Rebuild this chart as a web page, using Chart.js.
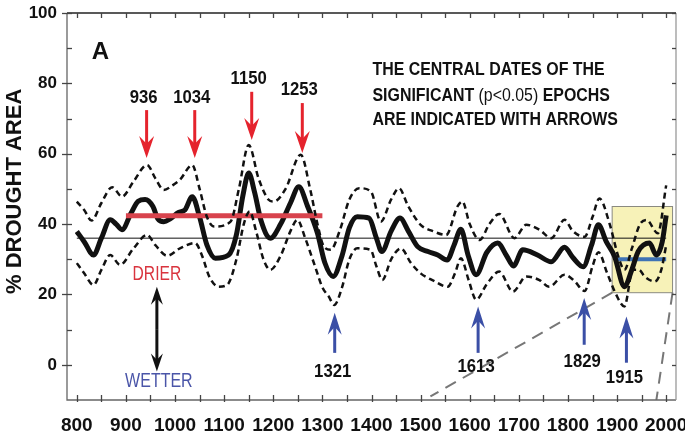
<!DOCTYPE html>
<html>
<head>
<meta charset="utf-8">
<script src="https://cdn.jsdelivr.net/npm/chart.js@4.4.1/dist/chart.umd.min.js"></script>
<style>
  html, body { margin: 0; padding: 0; background: #fff; }
  #chart { display: block; }
</style>
</head>
<body>
<canvas id="chart" width="685" height="435"></canvas>
<script>
// % drought area, panel A: mean reconstruction with its confidence band
const X_TICKS = [800, 900, 1000, 1100, 1200, 1300, 1400, 1500, 1600, 1700, 1800, 1900, 2000]
const Y_TICKS = [0, 20, 40, 60, 80, 100]

const YEARS_MEAN = [800, 815, 834, 850, 868, 880, 892, 910, 925, 939, 955, 965, 977, 990, 1007, 1020, 1035,
  1050, 1065, 1082, 1109, 1125, 1138, 1150, 1162, 1175, 1194, 1215, 1235, 1252, 1270, 1290, 1305, 1322,
  1340, 1355, 1371, 1395, 1410, 1421, 1440, 1458, 1475, 1494, 1515, 1535, 1554, 1568, 1582, 1597, 1613,
  1635, 1657, 1675, 1689, 1708, 1738, 1766, 1793, 1810, 1831, 1848, 1862, 1878, 1895, 1915, 1930, 1943,
  1966, 1980, 1992, 2000]
const MEAN = [37.9, 35, 31.2, 36, 41.2, 40, 38.4, 43, 46.5, 47, 45, 41.5, 40.7, 41.5, 43.3, 44, 47.8,
  42, 34, 30.3, 31.2, 37, 48, 54.5, 49, 41, 36, 40, 46, 50.6, 45, 37.4, 29, 25.1,
  31, 39, 42.1, 41.7, 36, 32.2, 38, 41.7, 38, 33.6, 32.2, 31.2, 29.8, 34, 38.5, 31, 25.6,
  32, 34.6, 31, 28.1, 32.7, 31.2, 29.3, 33.4, 30.5, 27.9, 34, 39.8, 35, 30.8, 22.2, 27, 32.2,
  34.6, 31.2, 35, 42.5]

const YEARS_UPPER = [800, 815, 830, 850, 872, 892, 915, 943, 960, 977, 995, 1010, 1035, 1050, 1065, 1080,
  1113, 1130, 1150, 1170, 1190, 1201, 1225, 1256, 1275, 1290, 1303, 1317, 1335, 1355, 1375, 1399, 1419,
  1440, 1456, 1475, 1500, 1525, 1552, 1575, 1585, 1600, 1620, 1640, 1660, 1691, 1715, 1742, 1766, 1793,
  1810, 1834, 1850, 1864, 1885, 1902, 1915, 1930, 1946, 1960, 1983, 2000]
const UPPER = [46.4, 44, 41, 46, 50.5, 47.8, 52, 56.8, 53, 49.7, 51, 52.6, 56.8, 50, 42, 39.3,
  40.7, 50, 62.5, 53, 47, 46.4, 50, 59.7, 50, 40, 33.6, 32.7, 38, 47, 50.2, 49.2, 40.7,
  47, 50.2, 45, 39.8, 38, 36.9, 45, 46.4, 40, 35.5, 40, 42.9, 36, 39.8, 38.4, 36, 41.2,
  38, 36.4, 42, 47.3, 40, 31, 27, 33, 39.8, 41.2, 37.4, 51]

const YEARS_LOWER = [800, 815, 834, 850, 868, 888, 915, 943, 960, 984, 1011, 1041, 1055, 1070, 1089, 1106,
  1125, 1140, 1152, 1165, 1180, 1194, 1215, 1235, 1249, 1265, 1285, 1300, 1313, 1324, 1340, 1355, 1371,
  1398, 1410, 1422, 1440, 1460, 1480, 1500, 1525, 1555, 1570, 1582, 1598, 1613, 1635, 1660, 1688, 1715,
  1742, 1762, 1793, 1812, 1834, 1850, 1862, 1880, 1898, 1915, 1932, 1945, 1956, 1977, 1990, 2000]
const LOWER = [28.9, 26, 22.7, 27, 31.2, 28.4, 33, 36.9, 34, 31, 33.2, 34.6, 31, 25, 22.2, 22.7,
  30, 40, 43.6, 38, 30, 27, 31, 38, 41.2, 36, 28, 22, 19.4, 17, 22, 30, 33.1,
  32.7, 28, 24.1, 30, 33.1, 29, 26, 24, 22.2, 26, 30.3, 24, 18.5, 23, 26.5, 20.8, 25.1,
  24.1, 22.2, 25.6, 24, 21, 28, 32, 26, 20, 16.6, 27, 27, 25.1, 23.7, 27, 34]

const LONG_TERM_MEAN = 36
const DRY_PERIOD = [900, 1300]
const DRY_PERIOD_MEAN = 42.4
const MODERN_PERIOD = [1895, 2000]
const MODERN_PERIOD_MEAN = 30

// significant epochs (central dates)
const DRY_EPOCHS = [936, 1034, 1150, 1253]
const WET_EPOCHS = [1321, 1613, 1829, 1915]

const SANS = '"Liberation Sans", Arial, sans-serif'
const RED = '#e5232d'
const BLUE = '#3b4fa6'

// where the arrows sit, in data units: [label centre, arrow tail, arrow tip]
const DRY_ARROWS = [[75.9, 72.4, 58.8], [75.9, 72.4, 58.8], [81.2, 77.6, 63.9], [78.1, 74.4, 60.2]]
const WET_ARROWS = [[-2, 3.4, 14.8], [-0.6, 3.4, 16.6], [0.9, 5.7, 19], [-3.7, 0.6, 13.7]]
const INSET = { x0: 1890, x1: 2013, y0: 20.5, y1: 45 }

const pts = (xs, ys) => xs.map((x, i) => ({ x, y: ys[i] }))
const hline = (range, v) => range.map((x) => ({ x, y: v }))

// narrow lettering: regular face squeezed sideways
function squeezed(ctx, text, x, y, sx) {
  ctx.save()
  ctx.translate(x, y)
  ctx.scale(sx, 1)
  ctx.fillText(text, 0, 0)
  ctx.restore()
  return ctx.measureText(text).width * sx
}

function drawArrow(ctx, x, yTail, yTip, head, halfW, color, lw) {
  const dir = Math.sign(yTip - yTail)
  ctx.strokeStyle = color
  ctx.fillStyle = color
  ctx.lineWidth = lw
  ctx.beginPath()
  ctx.moveTo(x, yTail)
  ctx.lineTo(x, yTip - dir * head * 0.6)
  ctx.stroke()
  ctx.beginPath()
  ctx.moveTo(x, yTip)
  ctx.lineTo(x - halfW, yTip - dir * head)
  ctx.lineTo(x, yTip - dir * head * 0.65)
  ctx.lineTo(x + halfW, yTip - dir * head)
  ctx.closePath()
  ctx.fill()
}

const decor = {
  id: 'decor',
  beforeDatasetsDraw(chart) {
    const { ctx, scales: { x, y } } = chart
    ctx.save()
    const l = x.getPixelForValue(INSET.x0), r = x.getPixelForValue(INSET.x1)
    const t = y.getPixelForValue(INSET.y1), b = y.getPixelForValue(INSET.y0)
    ctx.fillStyle = '#f7f2b8'
    ctx.fillRect(l, t, r - l, b - t)
    ctx.strokeStyle = '#8a8a80'
    ctx.lineWidth = 1
    ctx.strokeRect(l, t, r - l, b - t)
    ctx.restore()
  },
  afterDatasetsDraw(chart) {
    const { ctx, chartArea: a, scales: { x, y } } = chart
    ctx.save()

    // frame and tick marks
    ctx.lineWidth = 1.3
    ctx.strokeStyle = '#222'
    ctx.beginPath(); ctx.moveTo(a.left, a.top); ctx.lineTo(a.right, a.top); ctx.stroke()
    ctx.strokeStyle = '#666'
    ctx.beginPath(); ctx.moveTo(a.left, a.top); ctx.lineTo(a.left, a.bottom); ctx.lineTo(a.right, a.bottom); ctx.stroke()
    ctx.strokeStyle = '#999'
    ctx.beginPath(); ctx.moveTo(a.right, a.top); ctx.lineTo(a.right, a.bottom); ctx.stroke()
    ctx.strokeStyle = '#444'
    for (let v = 0; v <= 100; v += 10) {
      const py = Math.round(y.getPixelForValue(v)) + 0.5
      const major = Y_TICKS.includes(v)
      ctx.beginPath(); ctx.moveTo(a.left - (major ? 5 : 0), py); ctx.lineTo(a.left + 5, py); ctx.stroke()
      ctx.beginPath(); ctx.moveTo(a.right - 4, py); ctx.lineTo(a.right, py); ctx.stroke()
    }
    for (let yr = 800; yr <= 2000; yr += 50) {
      const px = Math.round(x.getPixelForValue(yr)) + 0.5
      ctx.beginPath(); ctx.moveTo(px, a.top); ctx.lineTo(px, a.top + 5); ctx.stroke()
      ctx.beginPath(); ctx.moveTo(px, a.bottom - 5); ctx.lineTo(px, a.bottom + 2); ctx.stroke()
    }

    // epoch arrows
    ctx.textAlign = 'center'
    ctx.textBaseline = 'middle'
    ctx.font = 'bold 19px ' + SANS
    DRY_EPOCHS.forEach((yr, i) => {
      const [lab, tail, tip] = DRY_ARROWS[i]
      const px = x.getPixelForValue(yr)
      drawArrow(ctx, px + 3, y.getPixelForValue(tail), y.getPixelForValue(tip), 22, 7.5, RED, 3)
      ctx.fillStyle = '#111'
      squeezed(ctx, String(yr), px, y.getPixelForValue(lab), 0.88)
    })
    WET_EPOCHS.forEach((yr, i) => {
      const [lab, tail, tip] = WET_ARROWS[i]
      const px = x.getPixelForValue(yr)
      drawArrow(ctx, px + 2, y.getPixelForValue(tail), y.getPixelForValue(tip), 22, 7, BLUE, 3)
      ctx.fillStyle = '#111'
      squeezed(ctx, String(yr), px, y.getPixelForValue(lab), 0.88)
    })

    // drier / wetter
    const dx = x.getPixelForValue(963)
    const yTop = y.getPixelForValue(22.2), yBot = y.getPixelForValue(-1.9)
    drawArrow(ctx, dx, (yTop + yBot) / 2, yTop, 18, 6, '#111', 3)
    drawArrow(ctx, dx, (yTop + yBot) / 2, yBot, 18, 6, '#111', 3)
    ctx.font = '20px ' + SANS
    ctx.fillStyle = '#d9343e'
    squeezed(ctx, 'DRIER', dx, y.getPixelForValue(25.8), 0.78)
    ctx.fillStyle = '#4a55a8'
    squeezed(ctx, 'WETTER', dx + 2, y.getPixelForValue(-4.6), 0.8)

    // panel letter and note
    ctx.fillStyle = '#111'
    ctx.font = 'bold 24px ' + SANS
    ctx.fillText('A', x.getPixelForValue(848), y.getPixelForValue(88.9))
    ctx.textAlign = 'left'
    ctx.textBaseline = 'alphabetic'
    const nx = x.getPixelForValue(1402)
    const bold = 'bold 18.5px ' + SANS
    const sx = 0.86
    ctx.font = bold
    squeezed(ctx, 'THE CENTRAL DATES OF THE', nx, y.getPixelForValue(82.4), sx)
    let cx = nx
    const ny = y.getPixelForValue(75)
    cx += squeezed(ctx, 'SIGNIFICANT ', cx, ny, sx)
    ctx.font = '18.5px ' + SANS
    cx += squeezed(ctx, '(p<0.05)', cx, ny, sx)
    ctx.font = bold
    squeezed(ctx, ' EPOCHS', cx, ny, sx)
    squeezed(ctx, 'ARE INDICATED WITH ARROWS', nx, y.getPixelForValue(68.2), sx)

    // axis title
    ctx.translate(15, y.getPixelForValue(49.3))
    ctx.rotate(-Math.PI / 2)
    ctx.textAlign = 'center'
    ctx.textBaseline = 'middle'
    ctx.font = 'bold 22px ' + SANS
    ctx.fillText('% DROUGHT AREA', 0, 0)
    ctx.restore()
  }
}

const dashed = { borderColor: '#111', borderWidth: 2.5, borderDash: [6, 4], pointRadius: 0, cubicInterpolationMode: 'monotone', fill: false }

new Chart(document.getElementById('chart'), {
  type: 'line',
  data: {
    datasets: [
      { data: hline([800, 2000], LONG_TERM_MEAN), borderColor: '#111', borderWidth: 1, pointRadius: 0 },
      { data: pts(YEARS_UPPER, UPPER), ...dashed },
      { data: pts(YEARS_LOWER, LOWER), ...dashed },
      { data: hline(DRY_PERIOD, DRY_PERIOD_MEAN), borderColor: '#d8434d', borderWidth: 5, pointRadius: 0 },
      { data: pts(YEARS_MEAN, MEAN), borderColor: '#111', borderWidth: 5, pointRadius: 0, cubicInterpolationMode: 'monotone' },
      { data: hline(MODERN_PERIOD, MODERN_PERIOD_MEAN), borderColor: '#3f73b5', borderWidth: 4, pointRadius: 0 },
      { data: [{ x: INSET.x0, y: INSET.y0 }, { x: 1520, y: -9 }], borderColor: '#777', borderWidth: 2, borderDash: [12, 8], pointRadius: 0 },
      { data: [{ x: INSET.x1, y: INSET.y0 }, { x: 1980, y: -10 }], borderColor: '#777', borderWidth: 2, borderDash: [12, 8], pointRadius: 0 }
    ]
  },
  options: {
    responsive: false,
    animation: false,
    devicePixelRatio: 1,
    layout: { padding: { top: 13, right: 9, left: 0, bottom: 0 } },
    plugins: { legend: { display: false }, tooltip: { enabled: false } },
    scales: {
      x: {
        type: 'linear',
        min: 780,
        max: 2020,
        grid: { display: false, drawTicks: false },
        border: { display: false },
        afterBuildTicks: (s) => { s.ticks = X_TICKS.map((v) => ({ value: v })) },
        afterFit: (s) => { s.height = 35; s.paddingLeft = 0; s.paddingRight = 0 },
        ticks: {
          padding: 14, color: '#111', maxRotation: 0, autoSkip: false,
          font: { family: SANS, size: 19, weight: 'bold' },
          callback: (v) => String(v)
        }
      },
      y: {
        min: -10,
        max: 100,
        grid: { display: false, drawTicks: false },
        border: { display: false },
        afterBuildTicks: (s) => { s.ticks = Y_TICKS.map((v) => ({ value: v })) },
        afterFit: (s) => { s.width = 67; s.paddingTop = 0; s.paddingBottom = 0 },
        ticks: { padding: 10, color: '#111', font: { family: SANS, size: 17, weight: 'bold' }, callback: (v) => String(v) }
      }
    }
  },
  plugins: [decor]
})
</script>
</body>
</html>
